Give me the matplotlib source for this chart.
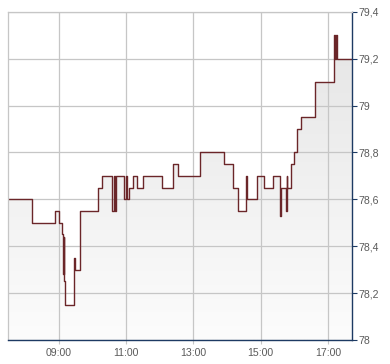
import matplotlib
matplotlib.use("Agg")
import matplotlib.pyplot as plt
import numpy as np
from matplotlib.colors import LinearSegmentedColormap

# step data: time the price changed, new price
times = [
    "07:30", "08:13", "08:53", "09:01", "09:07", "09:08", "09:09", "09:10",
    "09:12", "09:28", "09:30", "09:38", "10:11", "10:18", "10:35", "10:39",
    "10:41", "10:43", "10:57", "11:00", "11:02", "11:06", "11:13", "11:20",
    "11:31", "12:05", "12:24", "12:32", "13:11", "13:55", "14:11", "14:20",
    "14:34", "14:35", "14:53", "15:05", "15:22", "15:34", "15:35", "15:36",
    "15:45", "15:46", "15:47", "15:53", "15:59", "16:05", "16:12", "16:36",
    "17:11", "17:13", "17:14", "17:16", "17:43",
]
prices = [
    78.60, 78.50, 78.55, 78.50, 78.45, 78.28, 78.44, 78.25,
    78.15, 78.35, 78.30, 78.55, 78.65, 78.70, 78.55, 78.70,
    78.55, 78.70, 78.60, 78.70, 78.60, 78.65, 78.70, 78.65,
    78.70, 78.65, 78.75, 78.70, 78.80, 78.75, 78.65, 78.55,
    78.70, 78.60, 78.70, 78.65, 78.70, 78.65, 78.53, 78.65,
    78.55, 78.70, 78.65, 78.75, 78.80, 78.90, 78.95, 79.10,
    79.30, 79.20, 79.30, 79.20, 79.20,
]

x_ticks = ["09:00", "11:00", "13:00", "15:00", "17:00"]
y_ticks = [78.0, 78.2, 78.4, 78.6, 78.8, 79.0, 79.2, 79.4]


def to_hours(hhmm):
    h, m = hhmm.split(":")
    return int(h) + int(m) / 60.0


x = np.array([to_hours(t) for t in times])
y = np.array(prices)

plt.rcParams["font.family"] = ["Liberation Sans", "DejaVu Sans"]

LINE = "#6b2629"
GRID = "#c6c6c6"
AXIS = "#1d3a63"
TEXT = "#5a5a5a"

fig = plt.figure(figsize=(3.9, 3.64), dpi=100)
ax = fig.add_axes([8 / 390, 24 / 364, 344.3 / 390, 328.3 / 364])

x0, x1 = 7.5, to_hours("17:43")
y0, y1 = 78.0, 79.4

# gradient fill below the step line (light at the bottom, darker at the top)
fill = ax.fill_between(x, y, y0, step="post", facecolor="none", edgecolor="none")
cmap = LinearSegmentedColormap.from_list("fade", ["#fcfcfc", "#e4e4e4"])
grad = np.linspace(0, 1, 256).reshape(-1, 1)
im = ax.imshow(grad, extent=[x0, x1, y0, y1], aspect="auto", cmap=cmap,
               origin="lower", zorder=1)
im.set_clip_path(fill.get_paths()[0], transform=ax.transData)
ax.set_xlim(x0, x1)
ax.set_ylim(y0, y1)

ax.step(x, y, where="post", color=LINE, lw=1.0, zorder=3)

ax.set_xticks([to_hours(t) for t in x_ticks])
ax.set_xticklabels(x_ticks)
ax.set_yticks(y_ticks)
ax.set_yticklabels([f"{v:g}".replace(".", ",") for v in y_ticks])
ax.yaxis.tick_right()

ax.grid(True, color=GRID, lw=0.9)
for line in ax.get_xgridlines() + ax.get_ygridlines():
    line.set_zorder(2)

ax.spines["left"].set_color(GRID)
ax.spines["top"].set_color(GRID)
ax.spines["left"].set_linewidth(0.9)
ax.spines["top"].set_linewidth(0.9)
ax.spines["bottom"].set_color(AXIS)
ax.spines["right"].set_color(AXIS)
ax.spines["bottom"].set_linewidth(1.0)
ax.spines["right"].set_linewidth(1.0)
for s in ax.spines.values():
    s.set_zorder(4)

ax.tick_params(axis="y", right=True, left=False, length=3.5, width=0.8,
               color=AXIS, labelcolor=TEXT, labelsize=7.6, pad=1)
ax.tick_params(axis="x", length=3, width=0.8, color=GRID,
               labelcolor=TEXT, labelsize=7.6, pad=3)

fig.savefig("out.png", dpi=100)
